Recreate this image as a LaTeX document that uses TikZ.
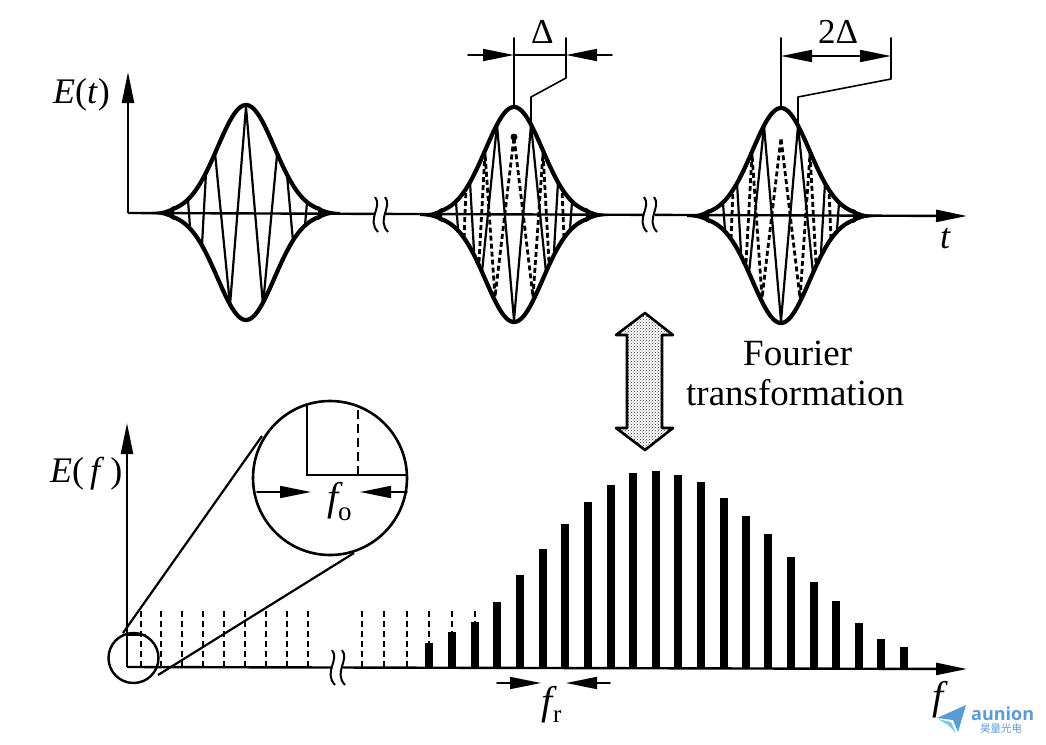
\documentclass[tikz,border=0pt]{standalone}
\usepackage{fontspec}
\setmainfont{Liberation Serif}
\newfontfamily\logofont{Open Sans}
\newfontfamily\cjkfont{Noto Sans CJK SC}
\usetikzlibrary{arrows.meta,patterns}
\definecolor{logoblue}{HTML}{5B9BD5}
\definecolor{logolight}{HTML}{7CC8EA}
\tikzset{
  thinline/.style={line width=1.6pt,line cap=round,line join=round},
  axisline/.style={line width=2.4pt},
  envel/.style={line width=4.2pt,line join=round},
  carrier/.style={line width=2.2pt,line cap=round},
  carrierdash/.style={line width=2.8pt,dash pattern=on 5pt off 3pt},
  combdash/.style={line width=2.5pt,dash pattern=on 6pt off 4pt},
  longtip/.style={-{Triangle[length=31pt,width=12pt]}},
  brk/.style={line width=2pt},
  lab/.style={inner sep=0pt,anchor=base west},
  bigtxt/.style={lab,font=\fontsize{36}{36}\selectfont},
  subtxt/.style={lab,font=\fontsize{27}{27}\selectfont},
}
\newcommand{\pulseenv}{%
  \draw[envel] plot[samples=70,domain=-74:74] (\x,{-108*exp(-((\x)^2)/1624)});
  \draw[envel] plot[samples=70,domain=-74:74] (\x,{107*exp(-((\x)^2)/1624)});
  \fill (72,-7) .. controls (78,-3) and (84,-1.5) .. (94,-1) -- (94,1) .. controls (84,1.5) and (78,3) .. (72,7) -- cycle;
  \fill (-72,-7) .. controls (-78,-3) and (-84,-1.5) .. (-94,-1) -- (-94,1) .. controls (-84,1.5) and (-78,3) .. (-72,7) -- cycle;
}
\newcommand{\pulsefull}{%
  \pulseenv
  \draw[carrier] (0,105)--(-17,-90)--(-32,57);
  \draw[carrier] (0,105)--(17,-90)--(32,57);
  \draw[carrier] (-44,-33)--(-40,36);
  \draw[carrier] (44,-33)--(40,36);
  \draw[carrier] (-58,-13)--(-56,14);
  \draw[carrier] (58,-13)--(56,14);
  \draw[carrierdash] (-35,47)--(-29,-62)--(-19,82)--(0,-78)--(19,82)--(29,-62)--(35,47);
  \draw[carrierdash] (-50,23)--(-48,-26);
  \draw[carrierdash] (50,23)--(48,-26);
}
\newcommand{\axbreak}[2]{%
  \fill[white] (#1-1,#2+12) rectangle (#1+11,#2+23);
  \draw[brk] (#1,#2) .. controls (#1+8,#2+10) and (#1-9,#2+22) .. (#1+3,#2+35);
  \draw[brk] (#1+10,#2) .. controls (#1+18,#2+10) and (#1+1,#2+22) .. (#1+13,#2+35);
}
\begin{document}
\begin{tikzpicture}[x=1pt,y=-1pt]
\useasboundingbox (0,0) rectangle (1046,744);
% top axes
\coordinate (O1) at (128,213);
\coordinate (Ytop1) at (128,72);
\coordinate (Xend1) at (967,216);
\draw[axisline,longtip] (O1)--(Ytop1);
\draw[axisline,longtip] (O1)--(Xend1);
\axbreak{375}{197}
\axbreak{644}{197}
\node[bigtxt] (Et) at (53,103) {\textit{E}(\textit{t})};
\node[bigtxt] (tl) at (940,248) {\textit{t}};
% pulses
\begin{scope}[shift={(246,213)}]
  \pulseenv
  \draw[carrier] (-58,-13)--(-56,14);
  \draw[carrier] (-40,-40)--(-44,32);
  \draw[carrier] (-31,-60)--(-16,92)--(0,-106)--(17,92)--(31,-58);
  \draw[carrier] (41,-38)--(47,28);
  \draw[carrier] (61,-10)--(59,12);
\end{scope}
\begin{scope}[shift={(514,215)}]
  \pulsefull
  \fill (0,-78) circle (3.5pt);
\end{scope}
\begin{scope}[shift={(781,216)}]
  \pulsefull
\end{scope}
% delta marks
\coordinate (Da) at (514,38);  \coordinate (Db) at (514,108);
\coordinate (Dc) at (566,38);  \coordinate (Dd) at (566,78);
\coordinate (De) at (531,97);  \coordinate (Df) at (531,122);
\coordinate (Dl) at (468,55);  \coordinate (DlT) at (514,55);
\coordinate (Dr) at (612,55);  \coordinate (DrT) at (566,55);
\draw[thinline] (Da)--(Db);
\draw[thinline] (Dc)--(Dd)--(De)--(Df);
\draw[thinline,longtip] (Dl)--(DlT);
\draw[thinline,longtip] (Dr)--(DrT);
\draw[thinline] (DlT)--(DrT);
\node[lab,font=\fontsize{35}{35}\selectfont] (dl1) at (531,43) {Δ};
\coordinate (Ea) at (781,38);  \coordinate (Eb) at (781,108);
\coordinate (Ec) at (891,38);  \coordinate (Ed) at (891,79);
\coordinate (Ee) at (798,97);  \coordinate (Ef) at (798,122);
\coordinate (EmA) at (830,56); \coordinate (EmB) at (845,56);
\coordinate (ElT) at (781,56); \coordinate (ErT) at (891,56);
\draw[thinline] (Ea)--(Eb);
\draw[thinline] (Ec)--(Ed)--(Ee)--(Ef);
\draw[thinline,longtip] (EmA)--(ElT);
\draw[thinline,longtip] (EmB)--(ErT);
\draw[thinline] (EmA)--(EmB);
\node[lab,font=\fontsize{35}{35}\selectfont] (dl2) at (818,43) {2Δ};
% double arrow
\path[fill=white,postaction={pattern=crosshatch dots,pattern color=black!80}]
  (645,313)--(673,335)--(662,335)--(662,428)--(673,428)--(645,450)--(616,428)--(627,428)--(627,335)--(616,335)--cycle;
\draw[line width=2.6pt,line join=round]
  (645,313)--(673,335)--(662,335)--(662,428)--(673,428)--(645,450)--(616,428)--(627,428)--(627,335)--(616,335)--cycle;
\node[lab,font=\fontsize{37}{37}\selectfont] (F1) at (743,365) {Fourier};
\node[lab,font=\fontsize{37}{37}\selectfont] (F2) at (686,405) {transformation};
% bottom axes
\coordinate (O2) at (127,667);
\coordinate (Ytop2) at (127,423);
\coordinate (Xend2) at (967,669);
\draw[axisline,longtip] (O2)--(Ytop2);
\draw[axisline,longtip] (O2)--(Xend2);
\axbreak{332}{650}
\node[bigtxt] (Ef2) at (50,482) {\textit{E}(\,\textit{f}\,)};
\node[bigtxt,font=\fontsize{40}{40}\selectfont] (fl) at (932,709) {\textit{f}};
% comb
\foreach \x in {141,161,182,203,224,245,266,287,308,362,384,407,429,452,475}
  \draw[combdash] (\x,667)--(\x,608);
\foreach \x/\t in {429/643,452/632,475/622,497/602,520/575,543/549,565/524,588/502,611/485,633/473,656/471,678/475,701/482,723.5/498,746/516,768/534,791/557,814/582,836/601,859/623,881/639,904/647}
  \fill (\x-4,668) rectangle (\x+4,\t);
% magnifier
\node[circle,draw,line width=2.4pt,minimum size=50pt,inner sep=0pt] (small) at (133.5,658) {};
\node[circle,draw,line width=2.6pt,minimum size=154pt,inner sep=0pt] (big) at (330,478) {};
\coordinate (Ta) at (123,633); \coordinate (Tb) at (262,436);
\coordinate (Tc) at (158,675); \coordinate (Td) at (354,553);
\draw[line width=2.2pt] (Ta)--(Tb);
\draw[line width=2.2pt] (Tc)--(Td);
\draw[line width=2.2pt] (127,635)--(146,635);
\begin{scope}
  \clip (330,478) circle (77pt);
  \draw[line width=2.2pt] (307,390)--(307,475)--(410,475);
  \draw[line width=2.8pt,dash pattern=on 9pt off 5pt] (358,475)--(358,400);
\end{scope}
\coordinate (Ga) at (257,492); \coordinate (Gb) at (311,492);
\coordinate (Gc) at (407,492); \coordinate (Gd) at (360,492);
\draw[thinline,longtip] (Ga)--(Gb);
\draw[thinline,longtip] (Gc)--(Gd);
\node[lab,font=\fontsize{40}{40}\selectfont] (f0) at (327,510) {\textit{f}};
\node[subtxt] (f0s) at (338,520) {o};
% fr
\coordinate (Ha) at (497,683); \coordinate (Hb) at (541,683);
\coordinate (Hc) at (610,683); \coordinate (Hd) at (566,683);
\draw[thinline,longtip] (Ha)--(Hb);
\draw[thinline,longtip] (Hc)--(Hd);
\node[lab,font=\fontsize{40}{40}\selectfont] (fr) at (541,714) {\textit{f}};
\node[subtxt,font=\fontsize{25}{25}\selectfont] (frs) at (553,722) {r};
% logo
\fill[logoblue] (937,718)--(966,705)--(958,732)--(953,720)--cycle;
\fill[logolight] (938,719)--(951,722)--(956,733)--(948,725)--cycle;
\node[lab,text=logoblue,font=\logofont\bfseries\fontsize{18}{18}\selectfont] (logo) at (971,720) {aunion};
\node[lab,text=logoblue,font=\cjkfont\fontsize{10.5}{10.5}\selectfont] (logoc) at (980,732) {昊量光电};
\end{tikzpicture}
\end{document}
